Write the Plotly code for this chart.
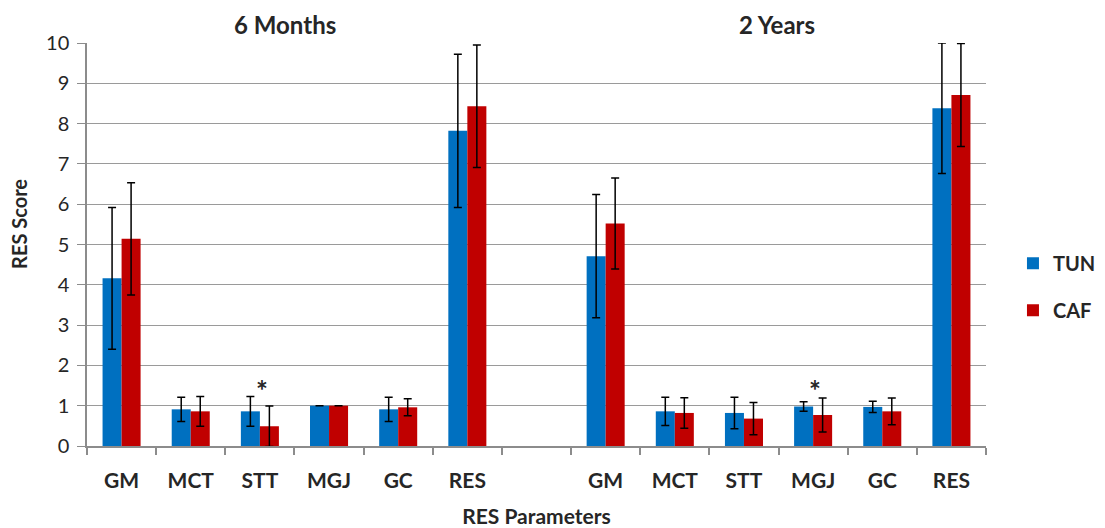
import plotly.graph_objects as go

categories = ["GM", "MCT", "STT", "MGJ", "GC", "RES"]
periods = ["6 Months", "2 Years"]

tun_6m = [4.16, 0.91, 0.86, 1.00, 0.91, 7.82]
tun_6m_err = [1.76, 0.30, 0.37, 0.0, 0.30, 1.90]
caf_6m = [5.14, 0.86, 0.49, 1.00, 0.96, 8.43]
caf_6m_err = [1.39, 0.37, 0.50, 0.0, 0.21, 1.52]

tun_2y = [4.71, 0.86, 0.82, 0.98, 0.97, 8.38]
tun_2y_err = [1.53, 0.35, 0.39, 0.12, 0.14, 1.62]
caf_2y = [5.52, 0.82, 0.68, 0.77, 0.86, 8.71]
caf_2y_err = [1.13, 0.38, 0.40, 0.42, 0.33, 1.28]

significant = [("6 Months", "STT", 1.39), ("2 Years", "MGJ", 1.39)]

BLUE = "#0070C0"
RED = "#C00000"
FONT = "Lato"
TXT = "#262626"

n = len(categories)
pos_6m = list(range(n))
pos_2y = [n + 1 + i for i in range(n)]
xpos = pos_6m + pos_2y
labels = categories + categories

tun = tun_6m + tun_2y
tun_err = tun_6m_err + tun_2y_err
caf = caf_6m + caf_2y
caf_err = caf_6m_err + caf_2y_err

err_style = dict(type="data", visible=True, color="black", thickness=1.5, width=4)

fig = go.Figure()
fig.add_trace(go.Bar(x=xpos, y=tun, name="TUN", marker=dict(color=BLUE, line=dict(width=0)),
                     error_y=dict(array=tun_err, **err_style), legendgroup="a"))
fig.add_trace(go.Bar(x=xpos, y=caf, name="CAF", marker=dict(color=RED, line=dict(width=0)),
                     error_y=dict(array=caf_err, **err_style), legendgroup="b"))

annotations = []
group_centers = [sum(pos_6m) / n, sum(pos_2y) / n]
title_shifts = [-9, -2]
for p, c, sh in zip(periods, group_centers, title_shifts):
    annotations.append(dict(x=c, y=1.0, xref="x", yref="paper", yanchor="bottom", yshift=2,
                            xshift=sh, text="<b>%s</b>" % p, showarrow=False,
                            font=dict(family=FONT, size=24, color=TXT)))
for per, cat, yv in significant:
    base = pos_6m if per == "6 Months" else pos_2y
    annotations.append(dict(x=base[categories.index(cat)], y=yv, xref="x", yref="y",
                            yanchor="middle", xshift=2,
                            text="<b>*</b>", showarrow=False,
                            font=dict(family=FONT, size=28, color=TXT)))
# y axis title
annotations.append(dict(x=0, y=0.551, xref="paper", yref="paper", xanchor="center",
                        yanchor="middle", xshift=-68, textangle=-90,
                        text="<b>RES Score</b>", showarrow=False,
                        font=dict(family=FONT, size=20, color=TXT)))

boundaries = [i - 0.5 for i in range(2 * n + 2)]

fig.update_layout(
    width=1105, height=528,
    margin=dict(l=79, r=112, t=35, b=90),
    paper_bgcolor="white", plot_bgcolor="white",
    barmode="group", bargap=0.45, bargroupgap=0.0,
    font=dict(family=FONT, color=TXT),
    showlegend=True,
    legend=dict(x=1.03, y=0.395, xanchor="left", yanchor="middle", tracegroupgap=18,
                itemwidth=30,
                font=dict(family=FONT, size=20, weight="bold", color=TXT)),
    annotations=annotations,
    xaxis=dict(range=[-0.5, 2 * n + 0.5], tickmode="array", tickvals=xpos, ticktext=labels,
               ticks="", showgrid=False, zeroline=False,
               showline=True, linecolor="#8C8C8C", linewidth=1.5,
               tickfont=dict(family=FONT, size=21, weight="bold", color=TXT),
               ticklabelstandoff=15,
               minor=dict(tickmode="array", tickvals=boundaries, ticks="outside",
                          ticklen=7, tickcolor="#8C8C8C", tickwidth=1.5, showgrid=False),
               title=dict(text="<b>RES Parameters</b>", standoff=18,
                          font=dict(family=FONT, size=21, color=TXT))),
    yaxis=dict(range=[0, 10], dtick=1, showgrid=True, gridcolor="#9A9A9A", gridwidth=1.3,
               zeroline=False, showline=True, linecolor="#8C8C8C", linewidth=1.5,
               ticks="outside", ticklen=8, tickcolor="#8C8C8C",
               tickfont=dict(family=FONT, size=20, color=TXT),
               ticklabelstandoff=4),
)

fig.write_html("out.html")
